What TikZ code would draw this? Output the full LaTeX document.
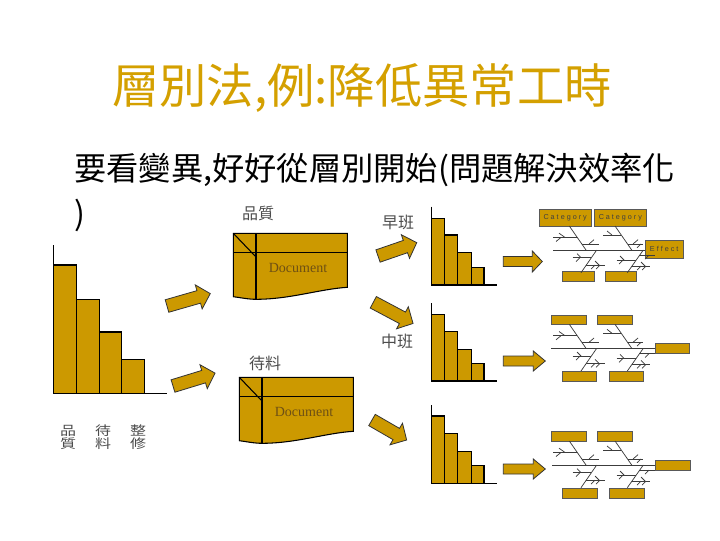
\documentclass[tikz,border=0pt]{standalone}
\usepackage{graphicx}
\usepackage{fontspec}
\setmainfont{Liberation Serif}
\newfontfamily\cjk{Noto Sans CJK TC}
\newfontfamily\lsans{Liberation Sans}
\definecolor{gold}{RGB}{204,153,0}
\definecolor{titlegold}{RGB}{212,160,0}
\definecolor{doctext}{RGB}{110,80,20}
\definecolor{bonecol}{RGB}{60,60,60}
\tikzset{
  goldfill/.style={fill=gold, draw=black, line width=0.8pt},
  axisline/.style={draw=black, line width=0.9pt},
  arrsty/.style={fill=gold, draw=black!80, line width=0.6pt, line join=miter},
  bone/.style={draw=bonecol, line width=0.55pt},
  fbox/.style={fill=gold, draw=black!65, line width=0.6pt},
  smalllabel/.style={font=\cjk\fontsize{12}{14}\selectfont, text=black!70, inner sep=0pt},
  vlabel/.style={font=\cjk\fontsize{12}{12}\selectfont, text=black!70, inner sep=0pt},
  tinylabel/.style={font=\lsans\fontsize{5.4}{6}\selectfont, text=black!75, inner sep=0pt},
  doclabel/.style={font=\fontsize{10.5}{12}\selectfont, text=doctext, inner sep=0pt},
}
\newcommand\sq[1]{\scalebox{1}[0.8]{#1}}
\newcommand\blockarr[7]{%
  \begin{scope}[shift={(#1,#2)}, rotate=#3]
    \draw[arrsty] (0,-#5) -- ({#4-#7},-#5) -- ({#4-#7},-#6) -- (#4,0) -- ({#4-#7},#6) -- ({#4-#7},#5) -- (0,#5) -- cycle;
  \end{scope}}
\newcommand\fishbody{%
  \draw[bone] (569.3,324.3) -- (586,348.3);
  \draw[bone] (553.3,335.7) -- (577.2,335.7);
  \draw[bone] (559,331.5) -- (565,335.7);
  \draw[bone] (556,339.8) -- (561,335.7);
  \draw[bone] (581.8,342.3) -- (599,342.3);
  \draw[bone] (589,342.3) -- (594,338);
  \draw[bone] (615,324.3) -- (631.7,348.3);
  \draw[bone] (603.3,333.3) -- (621.3,333.3);
  \draw[bone] (607,329.3) -- (612,333.3);
  \draw[bone] (627.5,342.3) -- (642.7,342.3);
  \draw[bone] (633,342.3) -- (638,338);
  \draw[bone] (637,346) -- (641,342.3);
  \draw[bone] (596.7,348.3) -- (581,371);
  \draw[bone] (572.7,356) -- (591.4,356);
  \draw[bone] (577,352) -- (581,356);
  \draw[bone] (576,360) -- (580,356);
  \draw[bone] (586.3,363.3) -- (605,363.3);
  \draw[bone] (591,367.3) -- (595,363.3);
  \draw[bone] (596,367.3) -- (600,363.3);
  \draw[bone] (595,359.3) -- (599,363.3);
  \draw[bone] (643.3,348.3) -- (627.3,371);
  \draw[bone] (616.7,358.3) -- (636.3,358.3);
  \draw[bone] (620,354.3) -- (624,358.3);
  \draw[bone] (619,362.3) -- (623,358.3);
  \draw[bone] (632,364.3) -- (650,364.3);
  \draw[bone] (637,368.3) -- (641,364.3);
  \draw[bone] (642,368.3) -- (646,364.3);
  \draw[bone] (641,360.3) -- (645,364.3);
  \draw[bone] (639,353.5) -- (655,353.5);
  \draw[bone] (645,357.5) -- (649,353.5);
}
\newcommand\docshape{%
  \draw[goldfill] (233.3,233.3) -- (347.3,233.3) -- (347.3,287.3) .. controls (320,289) and (290,299.3) .. (256,299.3) .. controls (248,299.3) and (240,297.5) .. (233.3,296.7) -- cycle;
  \draw[line width=0.8pt] (233.3,252.7) -- (347.3,252.7);
  \draw[line width=0.8pt] (256,233.3) -- (256,299.3);
  \draw[line width=0.8pt] (233.3,233.3) -- (256,257);
}
\begin{document}
\begin{tikzpicture}[x=0.75pt,y=-0.75pt]
\useasboundingbox (0,0) rectangle (720,540);

% title and subtitle
\node[font=\cjk\fontsize{35.5}{40}\selectfont, text=titlegold, inner sep=0pt] (title) at (362,88) {層別法,例:降低異常工時};
\node[font=\cjk\fontsize{24.2}{28}\selectfont, anchor=west, inner sep=0pt] (sub) at (74,170) {要看變異,好好從層別開始(問題解決效率化};
\node[font=\cjk\fontsize{24.2}{28}\selectfont, anchor=west, inner sep=0pt] (subend) at (74,215) {)};

% big pareto chart
\draw[goldfill] (53.3,393.3) rectangle (76.3,265);
\draw[goldfill] (76.3,393.3) rectangle (99.3,299.3);
\draw[goldfill] (99.3,393.3) rectangle (121.3,332);
\draw[goldfill] (121.3,393.3) rectangle (144.3,359.3);
\draw[axisline] (53.3,245) -- (53.3,393.3) -- (166.7,393.3);
\node[vlabel] (q1) at (68,430.5) {\sq{品}};
\node[vlabel] (q2) at (68,443.5) {\sq{質}};
\node[vlabel] (w1) at (103,430.5) {\sq{待}};
\node[vlabel] (w2) at (103,443.5) {\sq{料}};
\node[vlabel] (r1) at (138,430.5) {\sq{整}};
\node[vlabel] (r2) at (138,443.5) {\sq{修}};

% documents
\node[smalllabel] (lq) at (258,213) {品質};
\docshape
\node[doclabel] (d1) at (298,268) {Document};

\node[smalllabel] (lw) at (265,363) {待料};
\begin{scope}[shift={(6,144)}]
\docshape
\node[doclabel] (d2) at (298,268) {Document};
\end{scope}

% diagonal block arrows
\blockarr{167}{306}{16}{45}{6.5}{12.5}{12}
\blockarr{173}{386}{17}{44}{6.5}{12.5}{12}
\blockarr{378}{256}{19}{41}{6.5}{12.5}{12}
\blockarr{373.3}{302.3}{-28}{45}{6.5}{12.5}{12}
\blockarr{372}{420}{-30}{40}{6.5}{12.5}{12}

% shift labels
\node[smalllabel] (le) at (398,222) {早班};
\node[smalllabel] (lm) at (397,341) {中班};

% small pareto charts
\draw[goldfill] (431.7,285) rectangle (444.3,218.3);
\draw[goldfill] (444.3,285) rectangle (457.7,235);
\draw[goldfill] (457.7,285) rectangle (471.3,252.7);
\draw[goldfill] (471.3,285) rectangle (484,267.3);
\draw[axisline] (431.7,206.7) -- (431.7,285) -- (496.7,285);

\draw[goldfill] (431.7,381) rectangle (444.3,314.3);
\draw[goldfill] (444.3,381) rectangle (457.7,331.7);
\draw[goldfill] (457.7,381) rectangle (471.3,349.3);
\draw[goldfill] (471.3,381) rectangle (484,363.3);
\draw[axisline] (431.7,303.3) -- (431.7,381) -- (496.7,381);

\draw[goldfill] (431.7,483.3) rectangle (444.3,416);
\draw[goldfill] (444.3,483.3) rectangle (457.7,433.3);
\draw[goldfill] (457.7,483.3) rectangle (471.3,451.7);
\draw[goldfill] (471.3,483.3) rectangle (484,465.3);
\draw[axisline] (431.7,405) -- (431.7,483.3) -- (496.7,483.3);

% horizontal block arrows
\blockarr{503.3}{261.5}{0}{39}{5}{10.5}{10}
\blockarr{503.3}{361}{0}{42}{5}{10}{12}
\blockarr{503.3}{469}{0}{42}{5}{10}{12}

% top fishbone
\draw[fbox] (539,209.3) rectangle (591.3,226.7) node[midway, tinylabel] (c1) {C a t e g o r y};
\draw[fbox] (594,209.3) rectangle (646.7,226.7) node[midway, tinylabel] (c2) {C a t e g o r y};
\draw[fbox] (645,240) rectangle (683.3,258.3) node[midway, tinylabel] (ef) {E f f e c t};
\draw[fbox] (562.3,271.7) rectangle (594.3,281);
\draw[fbox] (605.3,271.7) rectangle (636.3,281);
\draw[bone] (553.3,250) -- (645,250);
\begin{scope}[shift={(0,-98.3)}]
\fishbody
\end{scope}

% middle fishbone
\draw[fbox] (551.3,315) rectangle (586.3,324.3);
\draw[fbox] (597.3,315) rectangle (632.3,324.3);
\draw[fbox] (655,343.3) rectangle (689.3,353.3);
\draw[fbox] (562.3,371) rectangle (596.7,381.7);
\draw[fbox] (609.3,371) rectangle (643.7,381.7);
\draw[bone] (551,348.3) -- (655,348.3);
\fishbody

% bottom fishbone
\begin{scope}[shift={(0,116.7)}]
\draw[fbox] (551.3,315) rectangle (586.3,324.3);
\draw[fbox] (597.3,315) rectangle (632.3,324.3);
\draw[fbox] (655,343.3) rectangle (690.7,353.3);
\draw[fbox] (562.3,371.3) rectangle (597.7,381.3);
\draw[fbox] (609.3,371.3) rectangle (644.3,381.3);
\draw[bone] (552.3,348.3) -- (655,348.3);
\fishbody
\end{scope}
\end{tikzpicture}
\end{document}
